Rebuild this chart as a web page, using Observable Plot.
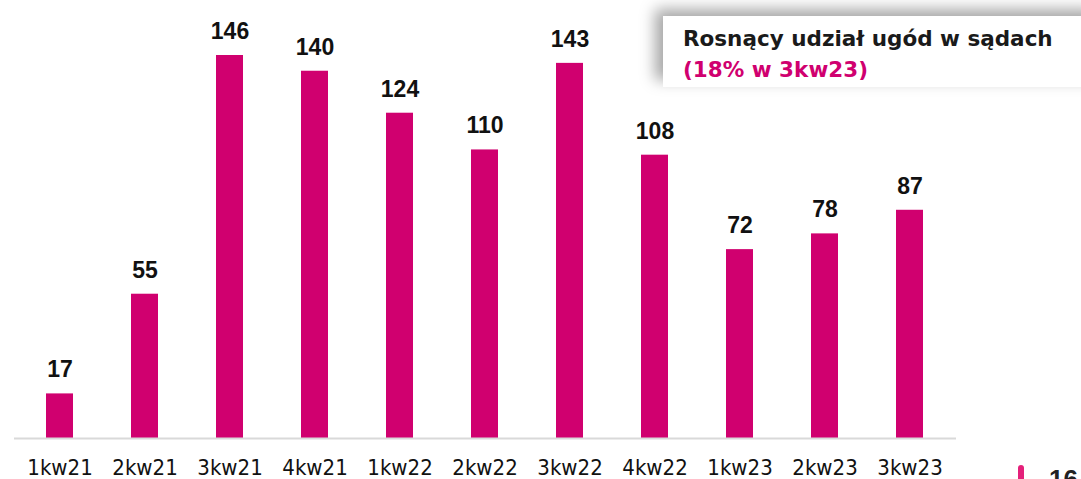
<!DOCTYPE html>
<html>
<head>
<meta charset="utf-8">
<script src="https://cdn.jsdelivr.net/npm/d3@7"></script>
<script src="https://cdn.jsdelivr.net/npm/@observablehq/plot@0.6"></script>
<style>
  html, body { margin: 0; padding: 0; background: #fff; }
  #wrap { position: relative; width: 1081px; height: 479px; overflow: hidden; }
  #note {
    position: absolute; left: 663px; top: 16px; width: 440px; height: 71px;
    background: #fff; box-shadow: -8px -7px 14px rgba(0,0,0,0.35);
    font-family: "DejaVu Sans", sans-serif; font-weight: bold; font-size: 21.5px; line-height: 31px;
    padding: 7px 0 0 20px; box-sizing: border-box;
  }
  #note .l1 { color: #1a1a1a; }
  #note .l2 { color: #d0006f; }
  #pg { position: absolute; left: 1018px; top: 465px; width: 6px; height: 20px; background: #e4207a; border-radius: 3px 3px 0 0; }
  #pgn { position: absolute; left: 1049px; top: 466px; font-family: "Liberation Sans", sans-serif; font-weight: bold; font-size: 26px; line-height: 26px; color: #222; }
  #chart svg text { font-stretch: condensed; }
</style>
</head>
<body>
<div id="wrap">
  <div id="chart"></div>
  <div id="note"><div class="l1">Rosnący udział ugód w sądach</div><div class="l2">(18% w 3kw23)</div></div>
  <div id="pg"></div>
  <div id="pgn">16</div>
</div>
<script>
const quarters = ["1kw21","2kw21","3kw21","4kw21","1kw22","2kw22","3kw22","4kw22","1kw23","2kw23","3kw23"];
const values = [17, 55, 146, 140, 124, 110, 143, 108, 72, 78, 87];
const data = quarters.map((q, i) => ({q, v: values[i]}));

const chart = Plot.plot({
  width: 1081,
  height: 479,
  marginLeft: 14,
  marginRight: 125,
  marginTop: 55,
  marginBottom: 41,
  x: {domain: quarters, paddingInner: 0.68, paddingOuter: 0.34, label: null},
  y: {domain: [0, 146], axis: null},
  style: {background: "transparent", overflow: "visible"},
  marks: [
    Plot.barY(data, {x: "q", y: "v", fill: "#d0006f"}),
    Plot.ruleY([0], {stroke: "#d9d9d9", strokeWidth: 2}),
    Plot.text(data, {x: "q", y: "v", text: d => String(d.v), dy: -24, fontSize: 23, fontWeight: "bold", fill: "#111", fontFamily: "Liberation Sans"}),
    Plot.axisX({tickSize: 0, tickPadding: 21, fontSize: 22, fontFamily: "DejaVu Sans Condensed, DejaVu Sans", label: null, color: "#111"})
  ]
});
document.getElementById("chart").appendChild(chart);
</script>
</body>
</html>
